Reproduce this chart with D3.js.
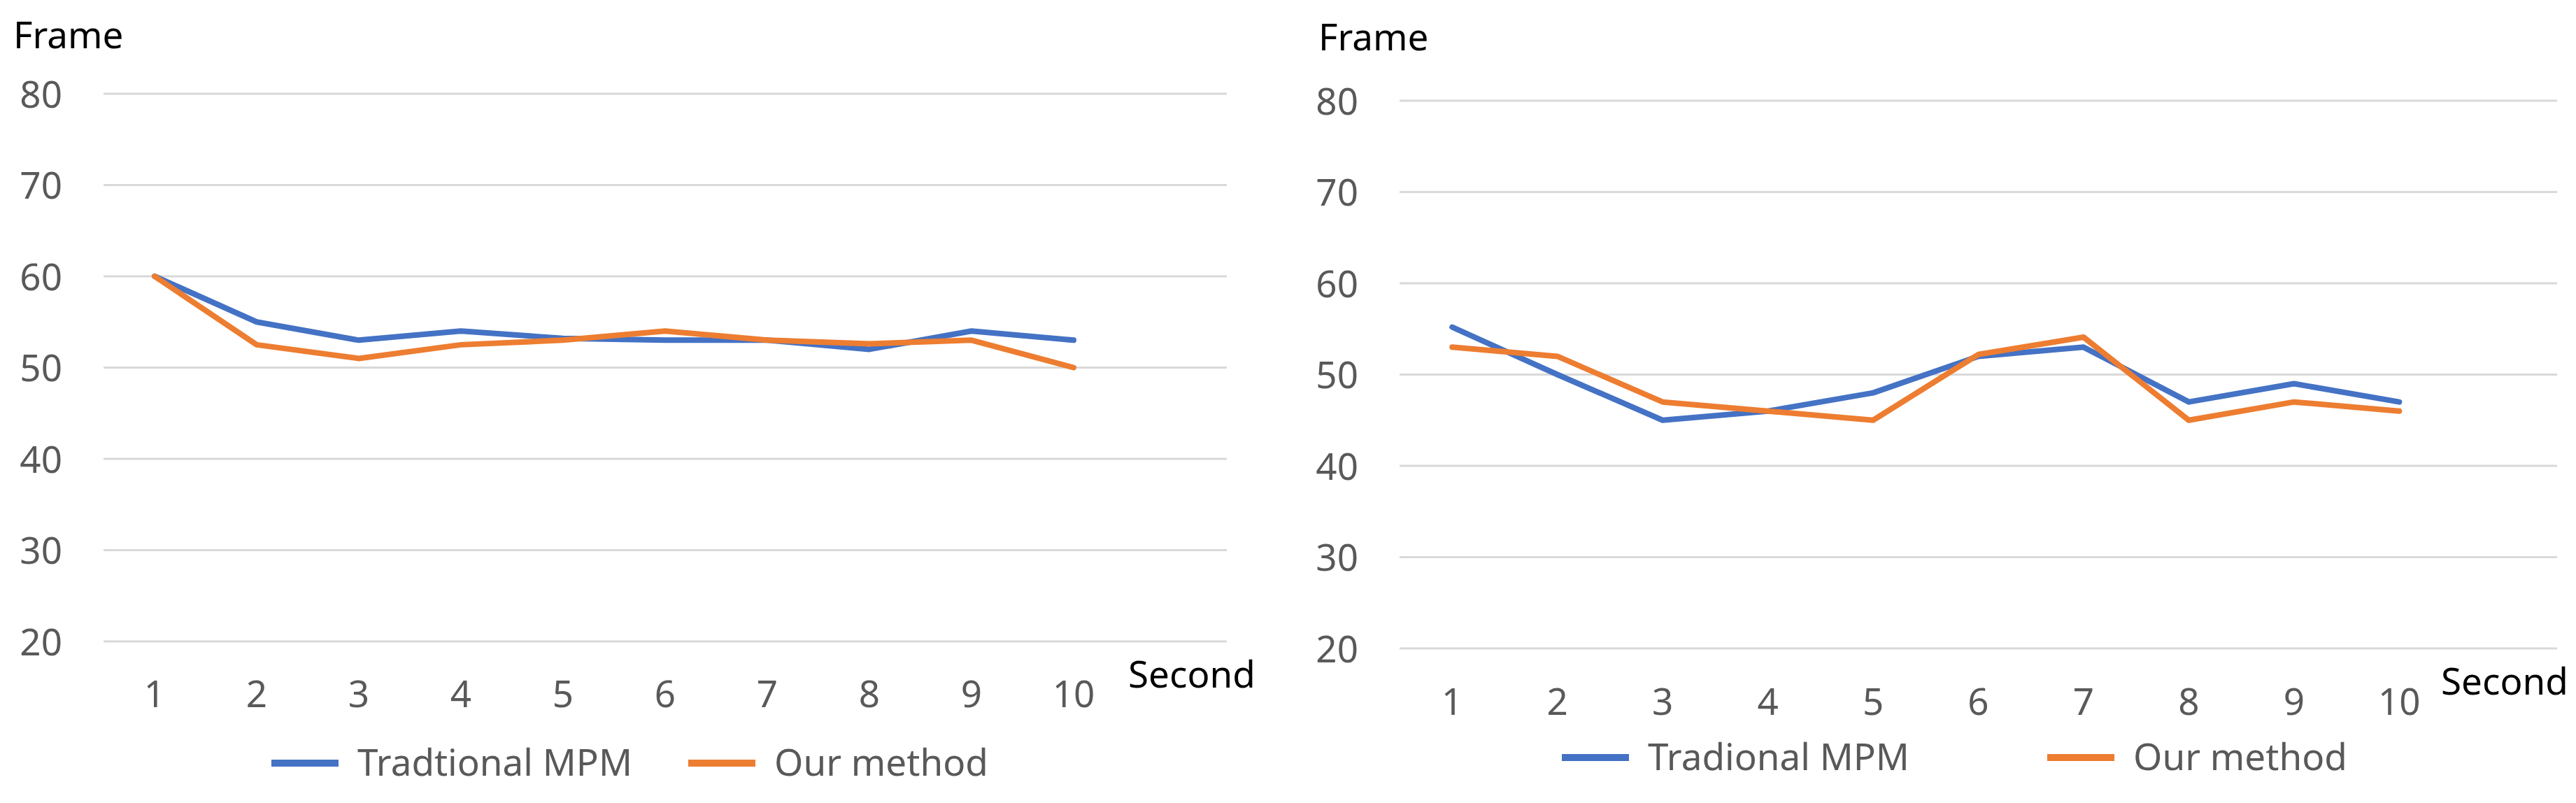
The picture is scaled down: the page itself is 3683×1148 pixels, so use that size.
<!DOCTYPE html>
<html>
<head>
<meta charset="utf-8">
<script src="https://cdn.jsdelivr.net/npm/d3@7"></script>
<style>
  html, body { margin: 0; padding: 0; background: #fff; }
  svg { display: block; }
  text { font-family: "Noto Sans", "Open Sans", sans-serif; }
</style>
</head>
<body>
<svg id="chart" width="3683" height="1148"></svg>
<script>
// ---- data ----
const seconds = [1, 2, 3, 4, 5, 6, 7, 8, 9, 10];
const yTicks = [20, 30, 40, 50, 60, 70, 80];

const leftTraditional = [60, 55, 53, 54, 53.2, 53, 53, 52, 54, 53];
const leftOurs        = [60, 52.5, 51, 52.5, 53, 54, 53, 52.6, 53, 50];
const leftLegend      = ["Tradtional MPM", "Our method"];

const rightTraditional = [55.2, 50, 45, 46, 48, 52, 53, 47, 49, 47];
const rightOurs        = [53, 52, 47, 46, 45, 52.2, 54.1, 45, 47, 46];
const rightLegend      = ["Tradional MPM", "Our method"];

const colors = ["#4472C4", "#ED7D31"];

const svg = d3.select("#chart");

function drawChart(cfg) {
  const g = svg.append("g");
  const slots = seconds.concat(["_"]); // empty trailing category slot
  const x = d3.scaleBand().domain(slots).range([cfg.x0, cfg.x1]);
  const y = d3.scaleLinear().domain([20, 80]).range([cfg.yBottom, cfg.yTop]);

  // gridlines
  g.selectAll("line.grid").data(yTicks).join("line")
    .attr("x1", cfg.x0).attr("x2", cfg.x1)
    .attr("y1", d => y(d)).attr("y2", d => y(d))
    .attr("stroke", "#D9D9D9").attr("stroke-width", 3);

  // y axis labels via d3 axis
  const yAxis = d3.axisLeft(y).tickValues(yTicks).tickSize(0).tickPadding(0);
  const ya = g.append("g").attr("transform", `translate(${cfg.yLabelX},0)`).call(yAxis);
  ya.select(".domain").remove();
  ya.selectAll("text").attr("fill", "#595959").attr("font-size", 53)
    .attr("font-family", "Noto Sans").attr("dy", "0.36em");

  // x axis labels
  const xAxis = d3.axisBottom(x).tickValues(seconds).tickSize(0).tickPadding(0);
  const xa = g.append("g").attr("transform", `translate(0,${cfg.xLabelY})`).call(xAxis);
  xa.select(".domain").remove();
  xa.selectAll("text").attr("fill", "#595959").attr("font-size", 53)
    .attr("font-family", "Noto Sans").attr("dy", 0);

  // lines
  const line = d3.line()
    .x((d, i) => x(seconds[i]) + x.bandwidth() / 2)
    .y(d => y(d));
  [cfg.trad, cfg.ours].forEach((s, k) => {
    g.append("path").datum(s)
      .attr("d", line)
      .attr("fill", "none")
      .attr("stroke", colors[k])
      .attr("stroke-width", 8)
      .attr("stroke-linejoin", "round")
      .attr("stroke-linecap", "round");
  });

  // axis titles
  g.append("text").attr("x", cfg.frameX).attr("y", cfg.frameY)
    .attr("font-size", 53).attr("fill", "#000").text("Frame");
  g.append("text").attr("x", cfg.secondX).attr("y", cfg.secondY)
    .attr("font-size", 53).attr("fill", "#000").text("Second");

  // legend
  cfg.legend.forEach((label, k) => {
    const lx = cfg.legendX[k];
    g.append("line")
      .attr("x1", lx).attr("x2", lx + 96)
      .attr("y1", cfg.legendY).attr("y2", cfg.legendY)
      .attr("stroke", colors[k]).attr("stroke-width", 10);
    g.append("text")
      .attr("x", lx + 123).attr("y", cfg.legendY + 18)
      .attr("font-size", 53).attr("fill", "#595959").text(label);
  });
}

drawChart({
  x0: 148, x1: 1754, yTop: 134, yBottom: 917,
  yLabelX: 89, xLabelY: 1011,
  frameX: 19, frameY: 69,
  secondX: 1613, secondY: 983,
  legendX: [388, 984], legendY: 1091,
  trad: leftTraditional, ours: leftOurs, legend: leftLegend
});

drawChart({
  x0: 2001, x1: 3656, yTop: 144, yBottom: 927,
  yLabelX: 1942, xLabelY: 1022,
  frameX: 1885, frameY: 72,
  secondX: 3490, secondY: 993,
  legendX: [2233, 2927], legendY: 1083,
  trad: rightTraditional, ours: rightOurs, legend: rightLegend
});
</script>
</body>
</html>
